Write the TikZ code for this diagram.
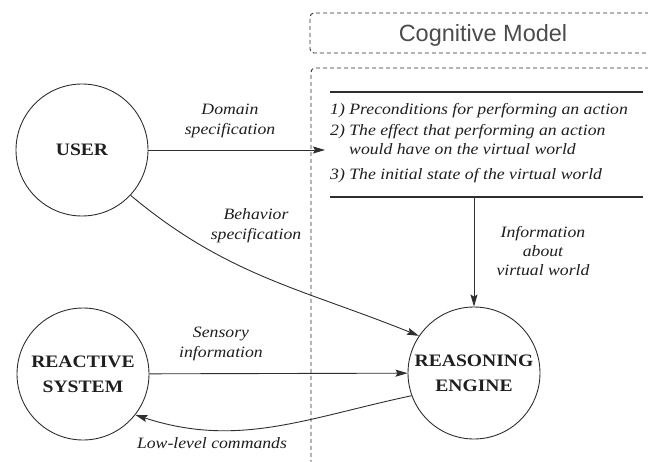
\documentclass[tikz,border=0pt]{standalone}
\usepackage{fontspec}
\setmainfont{Liberation Serif}
\newfontfamily\modelfont{Liberation Sans}
\newfontfamily\lblfont[FakeStretch=1.12]{Liberation Serif}
\usetikzlibrary{arrows.meta}

\definecolor{linec}{gray}{0.18}
\definecolor{txtc}{gray}{0.12}
\definecolor{headc}{gray}{0.3}

\tikzset{
  agent/.style={circle, draw=linec, line width=0.9pt, minimum size=132pt,
    inner sep=0pt, align=center, text=txtc,
    font=\lblfont\bfseries\fontsize{17.5}{25}\selectfont},
  lbl/.style={font=\lblfont\itshape\fontsize{15.8}{20.5}\selectfont,
    align=center, text=txtc, inner sep=0pt, anchor=base},
  item/.style={font=\lblfont\itshape\fontsize{15.8}{20}\selectfont,
    text=txtc, inner sep=0pt, anchor=base west},
  flow/.style={draw=linec, line width=0.9pt,
    -{Stealth[length=12pt,width=7pt,inset=2pt]}},
  rule/.style={draw=linec, line width=1.1pt},
  dashbox/.style={draw=linec, line width=0.9pt, dash pattern=on 4pt off 3pt,
    rounded corners=4pt},
}

\begin{document}
\begin{tikzpicture}[x=1pt, y=-1pt]
  \useasboundingbox (0,0) rectangle (648,462);
  \clip (0,0) rectangle (648,462);

  % cognitive model frames (open to the right and below)
  \draw[dashbox] (670,13) -- (310,13) -- (310,53) -- (670,53);
  \node[font=\modelfont\fontsize{23.5}{27}\selectfont, text=headc,
        inner sep=0pt, anchor=base] (cmtitle) at (483,42) {Cognitive Model};
  \draw[dashbox] (670,68) -- (311,68) -- (311,480);

  % knowledge listed in the cognitive model
  \coordinate (ktl) at (330,92);
  \coordinate (ktr) at (643,92);
  \coordinate (kbl) at (330,197);
  \coordinate (kbr) at (643,197);
  \coordinate (kbot) at (474,197);
  \draw[rule] (ktl) -- (ktr);
  \draw[rule] (kbl) -- (kbr);
  \node[item] (k1)  at (330,115) {1) Preconditions for performing an action};
  \node[item] (k2)  at (330,136) {2) The effect that performing an action};
  \node[item] (k2b) at (349,155) {would have on the virtual world};
  \node[item] (k3)  at (330,180) {3) The initial state of the virtual world};

  % agents
  \node[agent] (user)   at (82,150)  {USER};
  \node[agent] (react)  at (83,374)  {REACTIVE\\SYSTEM};
  \node[agent] (reason) at (474,373) {REASONING\\ENGINE};

  % connectors
  \coordinate (dom) at (325,150);
  \draw[flow] (user) -- (dom);
  \draw[flow] (user.-43) to[out=-40, in=158] (reason.146);
  \draw[flow] (kbot) -- (reason);
  \draw[flow] (react) -- (reason);
  \draw[flow] (reason.200) to[out=192, in=-18] (react.-38);

  % connector labels (anchored at the baseline of their last line)
  \node[lbl] (ldom)  at (230,135) {Domain\\specification};
  \node[lbl] (lbeh)  at (256,240) {Behavior\\specification};
  \node[lbl] (linfo) at (543,276) {Information\\[-1.5pt]about\\[-1.5pt]virtual world};
  \node[lbl] (lsens) at (221,358) {Sensory\\information};
  \node[lbl] (llow)  at (212,448) {Low-level commands};
\end{tikzpicture}
\end{document}
